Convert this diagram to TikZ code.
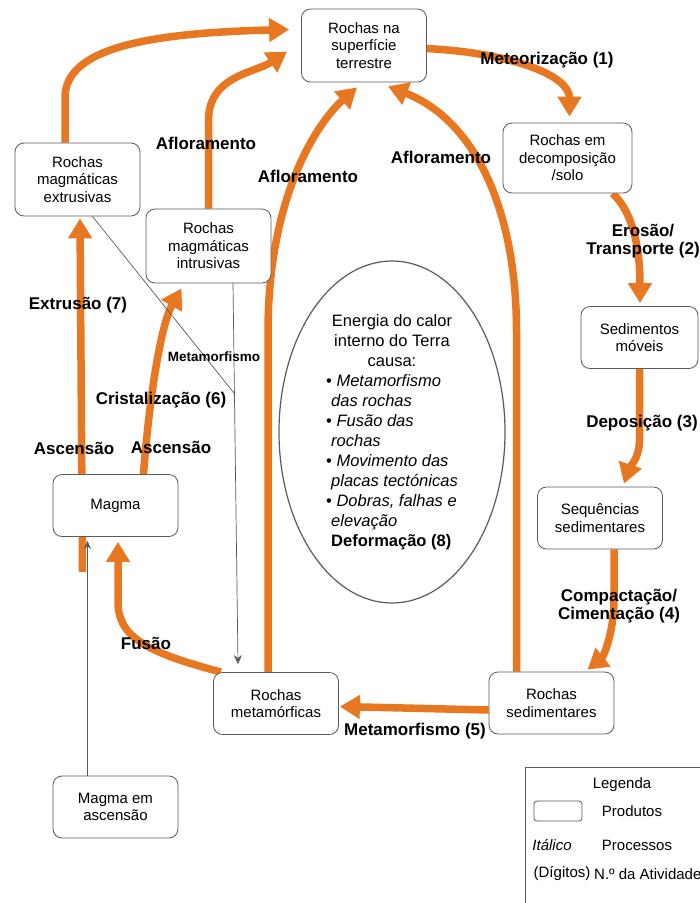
\documentclass[tikz,border=0pt]{standalone}
\usepackage{fontspec}
\setmainfont{Liberation Sans}
\usetikzlibrary{arrows.meta, calc, shapes.geometric}
\definecolor{laranja}{RGB}{232,119,34}
\definecolor{cinza}{RGB}{90,90,90}
\pgfdeclarelayer{fundo}
\pgfsetlayers{fundo,main}
\tikzset{
  produto/.style={draw=cinza, line width=0.8pt, rounded corners=9pt, fill=white, align=center,
    minimum width=125pt, minimum height=62pt, inner sep=2pt, font=\fontsize{15}{17.5}\selectfont},
  processo/.style={laranja, line width=7.5pt, -{Triangle[width=23pt,length=20pt]}},
  ligacao/.style={cinza, line width=0.7pt},
  rotulo/.style={inner sep=0pt, align=center, font=\fontsize{17}{18.5}\selectfont\bfseries},
  legtexto/.style={inner sep=0pt, font=\fontsize{15}{17}\selectfont},
}

\begin{document}
\begin{tikzpicture}[x=1pt, y=-1pt]
            \useasboundingbox (0,0) rectangle (700,903);

            % produtos
            \node[produto, minimum height=73pt] (sup) at (364,45.5) {Rochas na\\superfície\\terrestre};
            \node[produto, minimum width=129pt, minimum height=70pt] (decomp) at (567.5,158) {Rochas em\\decomposição\\/solo};
            \node[produto, minimum width=117pt] (sedm) at (639.5,337.5) {Sedimentos\\móveis};
            \node[produto] (seq) at (600,518) {Sequências\\sedimentares};
            \node[produto] (sed) at (551.5,703) {Rochas\\sedimentares};
            \node[produto] (meta) at (276,703.5) {Rochas\\metamórficas};
            \node[produto] (magma) at (115.5,505.5) {Magma};
            \node[produto] (magasc) at (115.5,807) {Magma em\\ascensão};
            \node[produto, minimum height=73pt] (extr) at (77.5,179.5) {Rochas\\magmáticas\\extrusivas};
            \node[produto, minimum height=74pt] (intr) at (208.5,246) {Rochas\\magmáticas\\intrusivas};

            \node[draw=cinza, line width=1.2pt, ellipse, minimum width=226pt, minimum height=342pt, inner sep=0pt,
                  font=\fontsize{16.5}{20}\selectfont] (energia) at (392,432) {%
              \begin{tabular}{@{}l@{}}
                \multicolumn{1}{@{}c@{}}{Energia do calor}\\
                \multicolumn{1}{@{}c@{}}{interno do Terra}\\
                \multicolumn{1}{@{}c@{}}{causa:}\\
                \textbullet\ \textit{Metamorfismo}\\
                \hspace*{5pt}\textit{das rochas}\\
                \textbullet\ \textit{Fusão das}\\
                \hspace*{5pt}\textit{rochas}\\
                \textbullet\ \textit{Movimento das}\\
                \hspace*{5pt}\textit{placas tectónicas}\\
                \textbullet\ \textit{Dobras, falhas e}\\
                \hspace*{5pt}\textit{elevação}\\
                \hspace*{5pt}\textbf{Deformação (8)}
              \end{tabular}};

            % processos (setas laranja)
            \begin{pgfonlayer}{fundo}
            \fill[white] (0,0) rectangle (700,903);
            \draw[processo] ([xshift=-12.5pt]extr.north) -- ++(0,-45) .. controls +(0,-50) and (150,33) .. ($(sup.west)+(-12,-16)$);
            \draw[processo] (intr.north) -- ++(0,-88) .. controls +(0,-45) and (255,73) .. ($(sup.west)+(-14,6)$);
            \draw[processo] ([xshift=-8pt]meta.north) -- ++(0,-340) .. controls +(0,-140) and (320,120) .. ($(sup.south)+(-7,5)$);
            \draw[processo] ([xshift=-35pt]sed.north) -- ++(0,-340) .. controls +(0,-130) and (470,118) .. ($(sup.south)+(24,4)$);
            \draw[processo] ([yshift=-3pt]sup.east) .. controls +(90,5) and +(0,-40) .. ($(decomp.north)+(2,-6)$);% Meteorizacao
            \draw[processo] ([xshift=45pt]decomp.south) .. controls +(22,20) and +(0,-50) .. ($(sedm.north)+(0.5,-3)$);
            \draw[processo] (sedm.south) -- ++(0,70) .. controls +(0,20) and +(5,-15) .. ($(seq.north)+(24,-3)$);
            \draw[processo] ([xshift=14pt]seq.south) -- ++(0,50) .. controls +(0,35) and +(15,-12) .. ($(sed.north)+(36,-2)$);
            \draw[processo] ([yshift=-7pt]sed.west) -- ($(meta.east)+(1,3)$);
            \draw[processo] ([xshift=-55pt]meta.north) .. controls +(-75,-20) and +(0,35) .. ($(magma.south)+(2.5,65)$) -- ($(magma.south)+(2.5,5)$);% Fusao
            \draw[processo] ([xshift=28pt]magma.north) .. controls +(6,-80) and +(-20,35) .. ($(intr.south)+(-27,5)$);
            \draw[processo] ([xshift=-33pt,yshift=-35pt]magma.south) -- ($(extr.south)+(2.5,2)$);% Extrusao
            \end{pgfonlayer}

            % ligacoes finas
            \coordinate (juncao) at (234,393);
            \draw[ligacao] ([xshift=15pt]extr.south) -- (juncao);
            \draw[ligacao, -{Stealth[length=9pt,width=8pt]}] ([xshift=24.5pt]intr.south) -- ($(meta.north)+(-38,-8)$);
            \draw[ligacao, -{Stealth[length=8pt,width=7pt]}] ([xshift=-28pt]magasc.north) -- ([xshift=-28pt,yshift=-4pt]magma.south);

            % rotulos
            \node[rotulo] (meteor) at (547,60) {Meteorização (1)};
            \node[rotulo] (erosao) at (643,241) {Erosão/\\Transporte (2)};
            \node[rotulo] (depos) at (642,423) {Deposição (3)};
            \node[rotulo] (compac) at (619,606) {Compactação/\\Cimentação (4)};
            \node[rotulo] (metam) at (415,731) {Metamorfismo (5)};
            \node[rotulo] (crist) at (161,400) {Cristalização (6)};
            \node[rotulo] (extrus) at (78,305) {Extrusão (7)};
            \node[rotulo] (fusao) at (146,643) {Fusão};
            \node[rotulo] (ascA) at (74,448) {Ascensão};
            \node[rotulo] (ascB) at (171,447) {Ascensão};
            \node[rotulo] (aflA) at (206,143) {Afloramento};
            \node[rotulo] (aflB) at (308,176) {Afloramento};
            \node[rotulo] (aflC) at (441,157) {Afloramento};
            \node[rotulo, font=\fontsize{13.5}{15}\selectfont\bfseries] (metamfino) at (214,357) {Metamorfismo};

            % legenda
            \draw[cinza, line width=0.8pt] (525,767) rectangle (715,915);
            \node[legtexto] (legenda) at (622,785) {Legenda};
            \node[draw=cinza, line width=0.8pt, rounded corners=3pt, minimum width=48pt, minimum height=20pt, inner sep=0pt] (amostra) at (558,811) {};
            \node[legtexto] (produtos) at (632,811) {Produtos};
            \node[legtexto] (italico) at (552,845) {\textit{Itálico}};
            \node[legtexto] (processos) at (637,845) {Processos};
            \node[legtexto] (digitos) at (562,874) {(Dígitos)};
            \node[legtexto, anchor=west] (atividade) at (594,874) {N.º da Atividade};
        \end{tikzpicture}
\end{document}
